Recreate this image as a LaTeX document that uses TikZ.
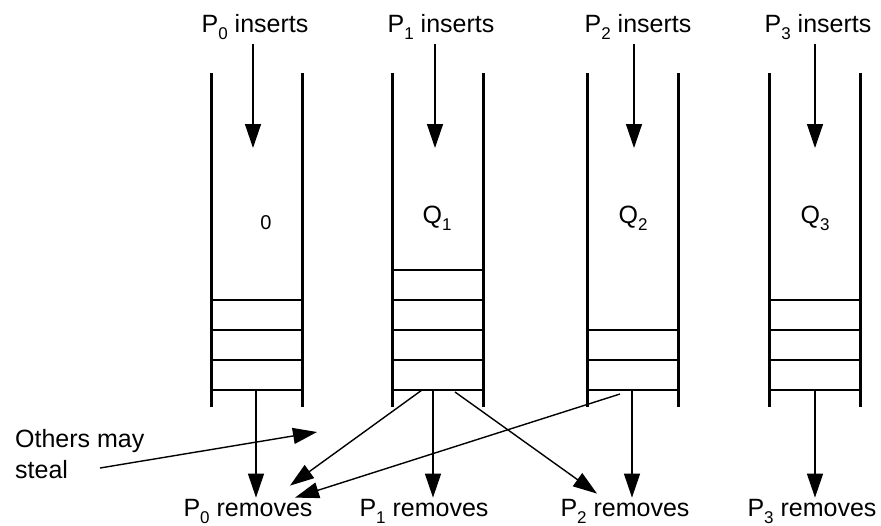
\documentclass[tikz,border=0pt]{standalone}
\usepackage{fontspec}
\setmainfont{Liberation Sans}
\usetikzlibrary{arrows.meta,calc}

% lowered index in the label font
\newcommand\low[1]{\raisebox{-0.28em}{\fontsize{17}{17}\selectfont #1}}

\tikzset{
  wall/.style={line width=3pt},
  slot/.style={line width=2.7pt},
  flow/.style={line width=1.4pt,-{Triangle[length=24pt,width=16pt]}},
  lbl/.style={font=\fontsize{25}{30}\selectfont,inner sep=1pt,anchor=base},
}

\begin{document}
\begin{tikzpicture}[x=1pt,y=-1pt]
  \useasboundingbox (0,0) rectangle (881,525);

  % the four queues: centre / filled slots
  \foreach \cx/\n in {257/3,437.5/4,633/2,814.5/3}{
    \draw[wall] (\cx-45.5,73) -- (\cx-45.5,407);
    \draw[wall] (\cx+45.5,73) -- (\cx+45.5,407);
    \foreach \k in {0,...,\n}
      \draw[slot] (\cx-45.5,390-30*\k) -- (\cx+45.5,390-30*\k);
  }

  % producers on top
  \node[lbl] (ins0) at (255,32) {P\low{0} inserts};
  \node[lbl] (ins1) at (441,32) {P\low{1} inserts};
  \node[lbl] (ins2) at (638,32) {P\low{2} inserts};
  \node[lbl] (ins3) at (818,32) {P\low{3} inserts};

  % queue names
  \node[lbl,font=\fontsize{20}{20}\selectfont] (q0) at (266,229) {0};
  \node[lbl] (q1) at (437,223) {Q\low{1}};
  \node[lbl] (q2) at (633,223) {Q\low{2}};
  \node[lbl] (q3) at (815,223) {Q\low{3}};

  % consumers at the bottom
  \node[lbl] (rem0) at (248,516) {P\low{0} removes};
  \node[lbl] (rem1) at (424,516) {P\low{1} removes};
  \node[lbl] (rem2) at (625,516) {P\low{2} removes};
  \node[lbl] (rem3) at (812,516) {P\low{3} removes};

  \node[font=\fontsize{25}{31}\selectfont,align=left,anchor=north west,inner sep=0pt]
    (others) at (15,429) {Others may\\steal};

  \coordinate (in0) at (253,148);
  \coordinate (in1) at (435,148);
  \coordinate (in2) at (634,148);
  \coordinate (in3) at (815,148);
  \coordinate (out0) at (256,390);
  \coordinate (out1) at (433,390);
  \coordinate (out2) at (632,390);
  \coordinate (out3) at (815,390);
  \coordinate (steal) at (100,468);
  \coordinate (grab) at (317,432);

  % inserting
  \foreach \i in {0,...,3}
    \draw[flow,shorten <=4pt] (in\i |- ins\i.south) -- (in\i);

  % removing
  \foreach \i in {0,...,3}
    \draw[flow] (out\i) -- (out\i |- rem\i.north);

  % stealing
  \draw[flow] ($(out1)+(-11,0)$) -- ($(rem0.north)+(42,-12)$);
  \draw[flow] ($(out1)+(22,2)$) -- ($(rem2.north)+(-28,-4)$);
  \draw[flow] ($(out2)+(-12,4)$) -- ($(rem0.north)+(47,0)$);
  \draw[flow] (steal) -- (grab);
\end{tikzpicture}
\end{document}
